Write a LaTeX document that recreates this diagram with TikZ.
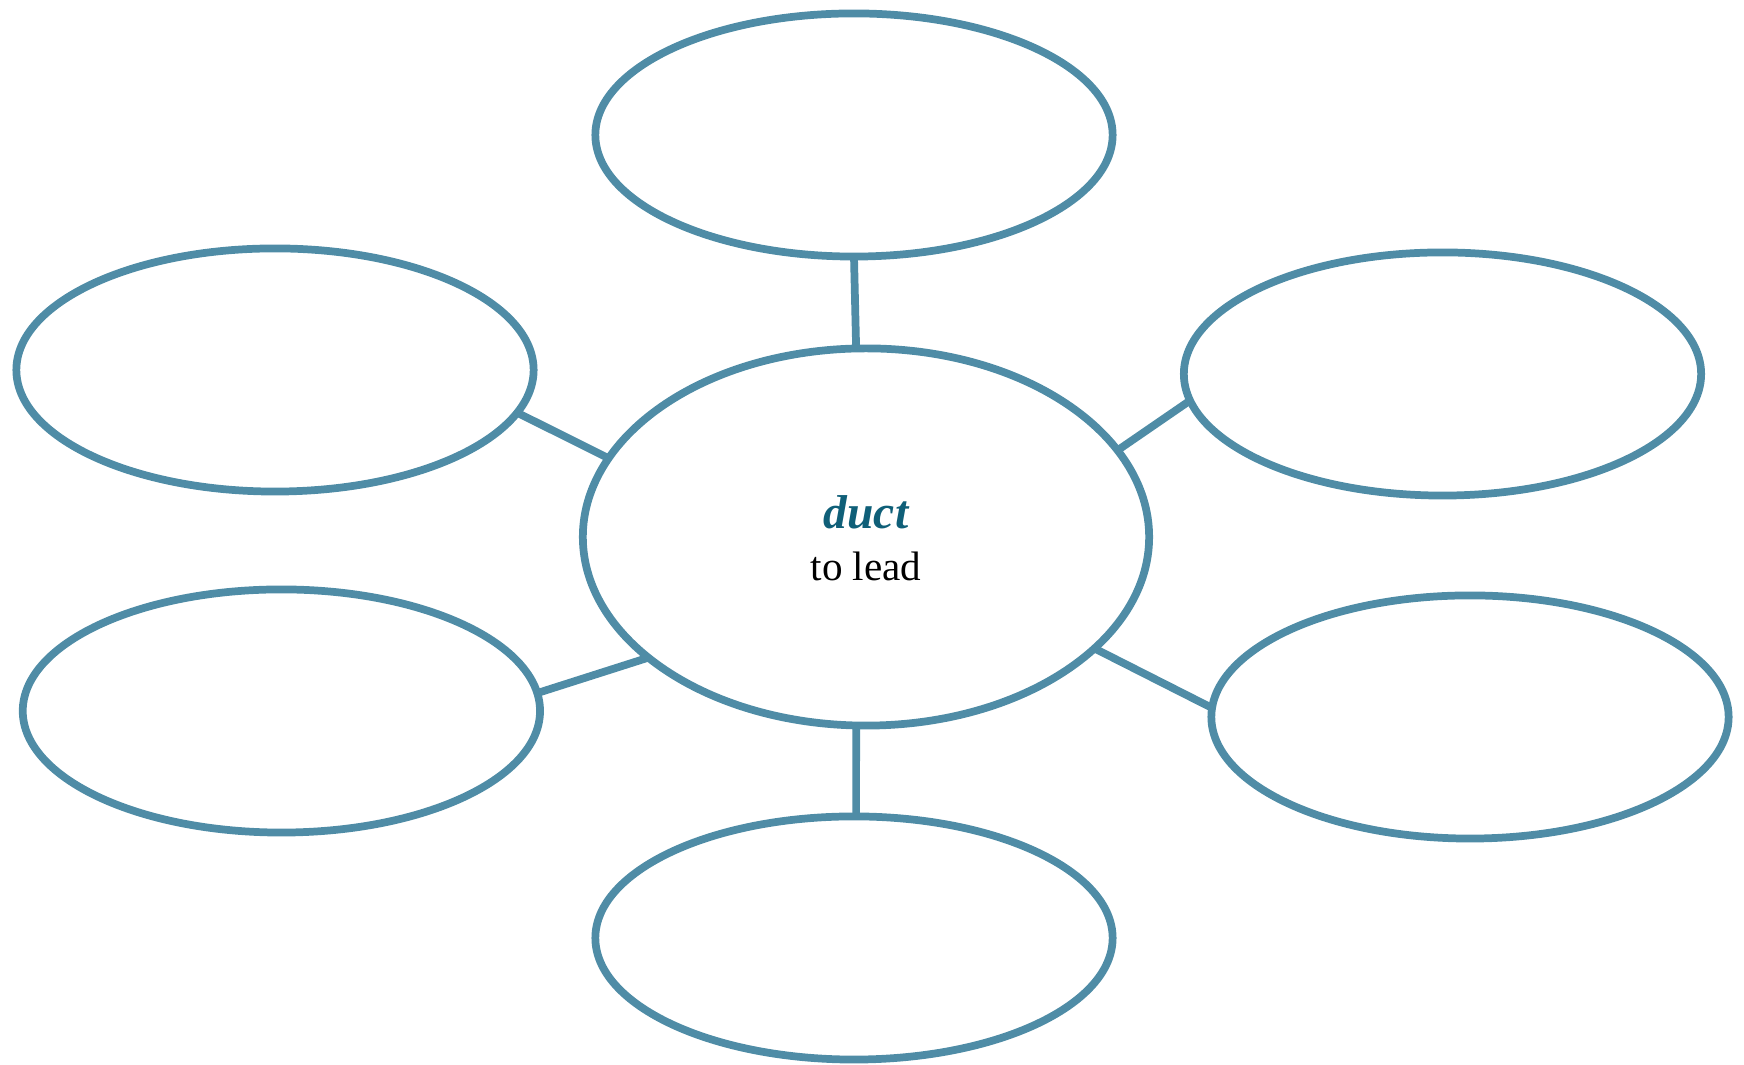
\documentclass[tikz,border=0pt]{standalone}
\usepackage{fontspec}
\setmainfont{Liberation Serif}
\usetikzlibrary{shapes.geometric}
\definecolor{edge}{RGB}{79,140,166}
\definecolor{rootc}{RGB}{15,95,120}
\begin{document}
\begin{tikzpicture}[x=0.01cm,y=-0.01cm,
  bubble/.style={ellipse,draw=edge,line width=2.2pt,inner sep=0pt,outer sep=0pt,minimum width=5.17cm,minimum height=2.43cm},
  hub/.style={ellipse,draw=edge,line width=2.2pt,inner sep=0pt,outer sep=0pt,minimum width=5.66cm,minimum height=3.77cm,align=center},
  link/.style={draw=edge,line width=2.2pt}]
\useasboundingbox (0,0) rectangle (1744,1065);
\node[hub] (c) at (866,537) {};
\node[font=\fontsize{13.5}{16}\selectfont\bfseries\itshape,text=rootc] (w) at (866,512) {duct};
\node[font=\fontsize{11.7}{14}\selectfont] (m) at (866,566) {to lead};
\node[bubble] (t) at (854,135) {};
\node[bubble] (lt) at (275,370) {};
\node[bubble] (rt) at (1442.5,374) {};
\node[bubble] (lb) at (281.4,711) {};
\node[bubble] (rb) at (1470,717) {};
\node[bubble] (b) at (854,938) {};
\draw[link] (c.93.9) -- (t.270);
\draw[link] (c.163.3) -- (lt.350.2);
\draw[link] (c.19.9) -- (rt.186.2);
\draw[link] (c.209.2) -- (lb.4);
\draw[link] (c.334.7) -- (rb.178.3);
\draw[link] (c.267.5) -- (b.89.3);
\end{tikzpicture}
\end{document}
